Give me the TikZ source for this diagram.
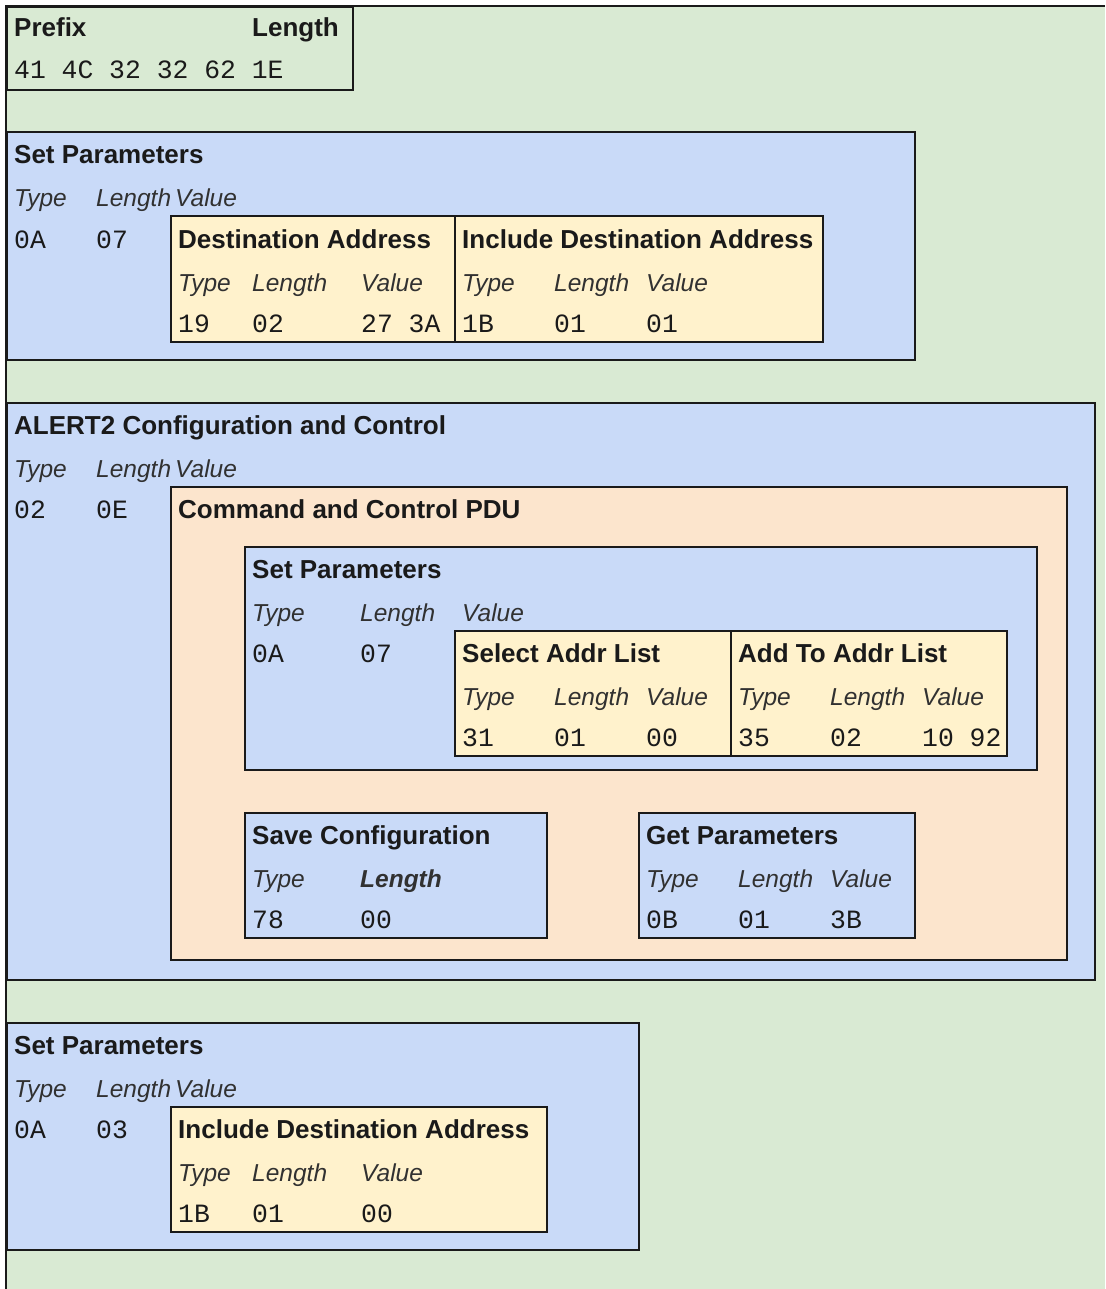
\documentclass[tikz,border=0pt]{standalone}
\usepackage{fontspec}
\setmainfont{Liberation Sans}
\setmonofont{Liberation Mono}
\usetikzlibrary{positioning}
\definecolor{pagegreen}{HTML}{D9EAD3}
\definecolor{tlvblue}{HTML}{C9DAF8}
\definecolor{tlvyellow}{HTML}{FFF2CC}
\definecolor{pduorange}{HTML}{FCE5CD}
\definecolor{ink}{HTML}{1A1A1A}

\begin{document}
\begin{tikzpicture}[
            x=1pt, y=-1pt,
            edge/.style={draw=ink, line width=1.6pt},
            outer/.style={edge, fill=tlvblue},
            inner/.style={edge, fill=tlvyellow},
            pdu/.style={edge, fill=pduorange},
            title/.style={anchor=base west, inner sep=0pt, text=ink, font=\fontsize{26}{30}\selectfont\bfseries},
            field/.style={anchor=base west, inner sep=0pt, text=ink!90, font=\fontsize{24.5}{30}\selectfont\itshape},
            hex/.style={anchor=base west, inner sep=0pt, text=ink, font=\fontsize{26.4}{30}\selectfont\ttfamily}
        ]
        \useasboundingbox (0,0) rectangle (1105,1289);
        \fill[pagegreen] (6,6) rectangle (1105,1289);
        \draw[edge] (6,1289) -- (6,6) -- (1105,6);

        % prefix
        \draw[edge, fill=pagegreen] (7,7) rectangle (353,90);
        \node[title] (prefix) at (14,37) {Prefix};
        \node[title] (prefixlen) at (252,37) {Length};
        \node[hex] (prefixhex) at (14,79) {41 4C 32 32 62 1E};

        % first set parameters
        \draw[outer] (7,132) rectangle (915,360);
        \node[title] (setA) at (14,164) {Set Parameters};
        \node[field] (setAtype) at (14,207) {Type};
        \node[field] (setAlen) at (96,207) {Length};
        \node[field] (setAval) at (175,207) {Value};
        \node[hex] (setAt) at (14,248) {0A};
        \node[hex] (setAl) at (96,248) {07};
        \draw[inner] (171,216) rectangle (455,342);
        \draw[inner] (455,216) rectangle (823,342);
        \node[title] (dest) at (178,248) {Destination Address};
        \node[field] (desttype) at (178,291) {Type};
        \node[field] (destlen) at (252,291) {Length};
        \node[field] (destval) at (361,291) {Value};
        \node[hex] (destt) at (178,332) {19};
        \node[hex] (destl) at (252,332) {02};
        \node[hex] (destv) at (361,332) {27 3A};
        \node[title] (incA) at (462,248) {Include Destination Address};
        \node[field] (incAtype) at (462,291) {Type};
        \node[field] (incAlen) at (554,291) {Length};
        \node[field] (incAval) at (646,291) {Value};
        \node[hex] (incAt) at (462,332) {1B};
        \node[hex] (incAl) at (554,332) {01};
        \node[hex] (incAv) at (646,332) {01};

        % alert2 configuration and control
        \draw[outer] (7,403) rectangle (1095,980);
        \node[title] (alert) at (14,434) {ALERT2 Configuration and Control};
        \node[field] (alerttype) at (14,477) {Type};
        \node[field] (alertlen) at (96,477) {Length};
        \node[field] (alertval) at (175,477) {Value};
        \node[hex] (alertt) at (14,518) {02};
        \node[hex] (alertl) at (96,518) {0E};
        \draw[pdu] (171,487) rectangle (1067,960);
        \node[title] (cmd) at (178,518) {Command and Control PDU};

        \draw[outer] (245,547) rectangle (1037,770);
        \node[title] (setB) at (252,578) {Set Parameters};
        \node[field] (setBtype) at (252,621) {Type};
        \node[field] (setBlen) at (360,621) {Length};
        \node[field] (setBval) at (462,621) {Value};
        \node[hex] (setBt) at (252,662) {0A};
        \node[hex] (setBl) at (360,662) {07};
        \draw[inner] (455,631) rectangle (731,756);
        \draw[inner] (731,631) rectangle (1007,756);
        \node[title] (sel) at (462,662) {Select Addr List};
        \node[field] (seltype) at (462,705) {Type};
        \node[field] (sellen) at (554,705) {Length};
        \node[field] (selval) at (646,705) {Value};
        \node[hex] (selt) at (462,746) {31};
        \node[hex] (sell) at (554,746) {01};
        \node[hex] (selv) at (646,746) {00};
        \node[title] (add) at (738,662) {Add To Addr List};
        \node[field] (addtype) at (738,705) {Type};
        \node[field] (addlen) at (830,705) {Length};
        \node[field] (addval) at (922,705) {Value};
        \node[hex] (addt) at (738,746) {35};
        \node[hex] (addl) at (830,746) {02};
        \node[hex] (addv) at (922,746) {10 92};

        \draw[outer] (245,813) rectangle (547,938);
        \node[title] (save) at (252,844) {Save Configuration};
        \node[field] (savetype) at (252,887) {Type};
        \node[field, font=\fontsize{24.5}{30}\selectfont\bfseries\itshape] (savelen) at (360,887) {Length};
        \node[hex] (savet) at (252,928) {78};
        \node[hex] (savel) at (360,928) {00};
        \draw[outer] (639,813) rectangle (915,938);
        \node[title] (get) at (646,844) {Get Parameters};
        \node[field] (gettype) at (646,887) {Type};
        \node[field] (getlen) at (738,887) {Length};
        \node[field] (getval) at (830,887) {Value};
        \node[hex] (gett) at (646,928) {0B};
        \node[hex] (getl) at (738,928) {01};
        \node[hex] (getv) at (830,928) {3B};

        % last set parameters
        \draw[outer] (7,1023) rectangle (639,1250);
        \node[title] (setC) at (14,1054) {Set Parameters};
        \node[field] (setCtype) at (14,1097) {Type};
        \node[field] (setClen) at (96,1097) {Length};
        \node[field] (setCval) at (175,1097) {Value};
        \node[hex] (setCt) at (14,1138) {0A};
        \node[hex] (setCl) at (96,1138) {03};
        \draw[inner] (171,1107) rectangle (547,1232);
        \node[title] (incB) at (178,1138) {Include Destination Address};
        \node[field] (incBtype) at (178,1181) {Type};
        \node[field] (incBlen) at (252,1181) {Length};
        \node[field] (incBval) at (361,1181) {Value};
        \node[hex] (incBt) at (178,1222) {1B};
        \node[hex] (incBl) at (252,1222) {01};
        \node[hex] (incBv) at (361,1222) {00};
        \end{tikzpicture}
\end{document}
